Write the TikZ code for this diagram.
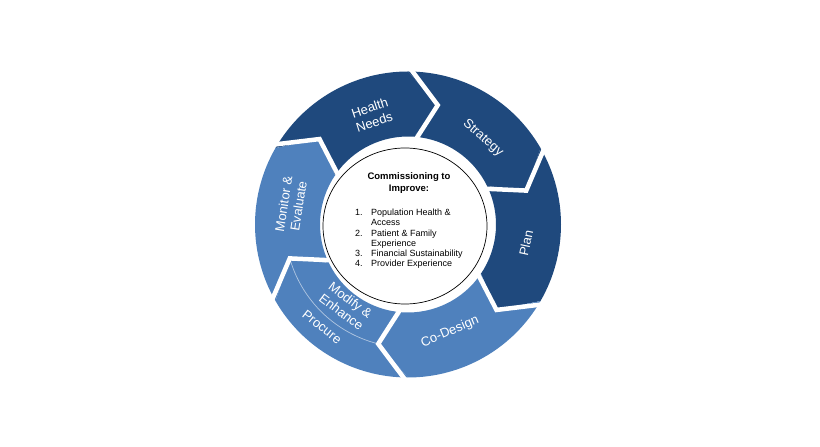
\documentclass[tikz,border=0pt]{standalone}
\usepackage{fontspec}
\setmainfont{Liberation Sans}
\usetikzlibrary{calc}
\definecolor{dkblue}{HTML}{1F497D}
\definecolor{ltblue}{HTML}{4F81BD}
\begin{document}
\begin{tikzpicture}[x=1pt,y=1pt,
  seglabel/.style={text=white, font=\fontsize{13}{15}\selectfont, align=center, inner sep=0pt},
  gapline/.style={white, line width=4.5pt, line join=miter},
  subline/.style={white, opacity=0.55, line width=0.7pt},
  hubcircle/.style={draw=black, line width=0.7pt, fill=white},
]
\useasboundingbox (0,0) rectangle (820,447);
\coordinate (C) at (408,222.5);
\def\Ro{153}
\def\Ri{88}
\def\Rt{123}
\newcommand\ringseg[3]{%
  \fill[#3] ($(C)+(#1+2:\Ro)$) arc[start angle=#1+2, end angle=#2+2, radius=\Ro]
     -- ($(C)+(#2-12:\Rt)$) -- ($(C)+(#2-2:\Ri)$)
     arc[start angle=#2-2, end angle=#1-2, radius=\Ri]
     -- ($(C)+(#1-12:\Rt)$) -- cycle;}
\newcommand\ringcut[1]{%
  \draw[gapline] ($(C)+(#1+2:\Ro+6)$) -- ($(C)+(#1-12:\Rt)$) -- ($(C)+(#1-2:\Ri-6)$);}
% segments
\ringseg{148}{88}{dkblue}
\ringseg{88}{28}{dkblue}
\ringseg{28}{-32}{dkblue}
\ringseg{-32}{-92}{ltblue}
\ringseg{-92}{-152}{ltblue}
\ringseg{208}{148}{ltblue}
% gaps
\ringcut{148}
\ringcut{88}
\ringcut{28}
\ringcut{-32}
\ringcut{-92}
\ringcut{-152}
% sub division in Procure
\draw[subline] ($(C)+(-104:\Rt)$) arc[start angle=-104, end angle=-164, radius=\Rt];
% hub
\draw[hubcircle] (405,221) ellipse [x radius=82, y radius=78];
% labels
\node[seglabel, rotate=18] (hn) at (372,332) {Health\\Needs};
\node[seglabel, rotate=-41] (st) at (483,309) {Strategy};
\node[seglabel, rotate=78] (pl) at (526,204) {Plan};
\node[seglabel, rotate=23] (cd) at (450,115) {Co-Design};
\node[seglabel, rotate=-38] (pr) at (322,120) {Procure};
\node[seglabel, rotate=-37] (me) at (346,141) {Modify \&\\Enhance};
\node[seglabel, rotate=81] (mo) at (291,242) {Monitor \&\\Evaluate};
% hub text
\node[align=center, inner sep=0pt, font=\fontsize{9.5}{11.5}\selectfont\bfseries] (title) at (409,264) {Commissioning to\\Improve:};
\node[anchor=north west, inner sep=0pt, font=\fontsize{9}{10.3}\selectfont] (list) at (355,239)
 {\begin{tabular}{@{}p{16pt}@{}l@{}}
 1. & Population Health \&\\
    & Access\\
 2. & Patient \& Family\\
    & Experience\\
 3. & Financial Sustainability\\
 4. & Provider Experience
 \end{tabular}};
\end{tikzpicture}
\end{document}
